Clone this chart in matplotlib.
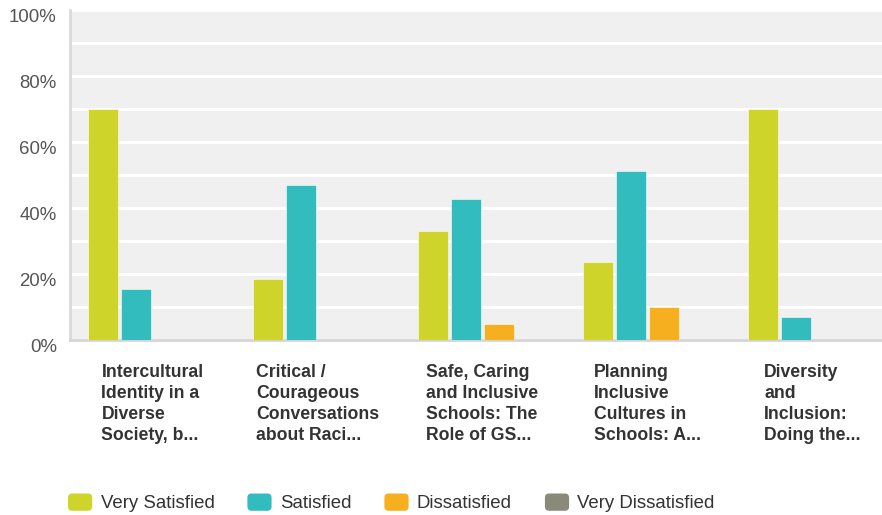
import matplotlib
matplotlib.use("Agg")
import matplotlib.pyplot as plt
import matplotlib.transforms as mtransforms
import numpy as np
from matplotlib.patches import FancyBboxPatch, Patch
from matplotlib.legend_handler import HandlerPatch

categories = [
    "Intercultural\nIdentity in a\nDiverse\nSociety, b...",
    "Critical /\nCourageous\nConversations\nabout Raci...",
    "Safe, Caring\nand Inclusive\nSchools: The\nRole of GS...",
    "Planning\nInclusive\nCultures in\nSchools: A...",
    "Diversity\nand\nInclusion:\nDoing the...",
]
series_names = ["Very Satisfied", "Satisfied", "Dissatisfied", "Very Dissatisfied"]
very_satisfied = [70.0, 18.4, 33.1, 23.5, 70.0]
satisfied = [15.5, 47.0, 42.6, 51.3, 7.1]
dissatisfied = [0.0, 0.0, 4.8, 9.9, 0.0]
very_dissatisfied = [0.0, 0.0, 0.0, 0.0, 0.0]
yticks = [0, 20, 40, 60, 80, 100]
ytick_labels = ["0%", "20%", "40%", "60%", "80%", "100%"]

colors = ["#CED42A", "#33BCBE", "#F5AF1F", "#898A7A"]

plt.rcParams["font.family"] = ["Liberation Sans", "DejaVu Sans"]

W, H = 882, 515
fig = plt.figure(figsize=(W / 100, H / 100), dpi=100)
left, right, top, bottom = 70, 895, 10, 340
ax = fig.add_axes([left / W, (H - bottom) / H, (right - left) / W, (bottom - top) / H])
ax.set_facecolor("#F0F0F0")

x = np.arange(len(categories))
pitch = 0.2
bw = 0.18
all_series = [very_satisfied, satisfied, dissatisfied, very_dissatisfied]
for i, (vals, col) in enumerate(zip(all_series, colors)):
    ax.bar(x - 0.3 + i * pitch, vals, width=bw, color=col, edgecolor="#FFFFFF",
           linewidth=0.4, zorder=3)

ax.set_xlim(-0.5, len(categories) - 0.5)
ax.set_ylim(0, 100)
ax.set_yticks(yticks)
ax.set_yticklabels(ytick_labels, fontsize=13.4, color="#555555")
ax.set_yticks(np.arange(0, 101, 10), minor=True)
ax.yaxis.grid(True, which="both", color="#FFFFFF", linewidth=2.2, zorder=1)
ax.set_axisbelow(True)
ax.tick_params(axis="y", which="both", length=0, pad=9.5)
shift = mtransforms.ScaledTranslation(0, -6 / 100, fig.dpi_scale_trans)
for lbl in ax.get_yticklabels():
    lbl.set_transform(lbl.get_transform() + shift)

ax.set_xticks(x)
ax.set_xticklabels(categories, fontsize=12.7, fontweight="bold", color="#333333",
                   multialignment="left", linespacing=1.29)
ax.tick_params(axis="x", length=0, pad=17.5)

for s in ["top", "right"]:
    ax.spines[s].set_visible(False)
ax.spines["left"].set_color("#DADADA")
ax.spines["left"].set_linewidth(2)
ax.spines["bottom"].set_color("#D5D5D5")
ax.spines["bottom"].set_linewidth(2)


class RoundHandler(HandlerPatch):
    def create_artists(self, legend, orig_handle, xdescent, ydescent, width, height, fontsize, trans):
        p = FancyBboxPatch((-xdescent + 2, -ydescent + 2), width - 4, height - 4,
                           boxstyle="round,pad=2,rounding_size=3",
                           facecolor=orig_handle.get_facecolor(), edgecolor="none",
                           transform=trans)
        return [p]


handles = [Patch(facecolor=c, label=n) for c, n in zip(colors, series_names)]
leg = fig.legend(handles=handles, loc="center left", bbox_to_anchor=(68 / W, (H - 503) / H),
                 ncol=4, frameon=False, fontsize=13.4, handlelength=1.3, handleheight=1.05,
                 handletextpad=0.45, columnspacing=1.77, borderpad=0, borderaxespad=0,
                 handler_map={Patch: RoundHandler()})
for t in leg.get_texts():
    t.set_color("#333333")

fig.savefig("out.png", dpi=100)
